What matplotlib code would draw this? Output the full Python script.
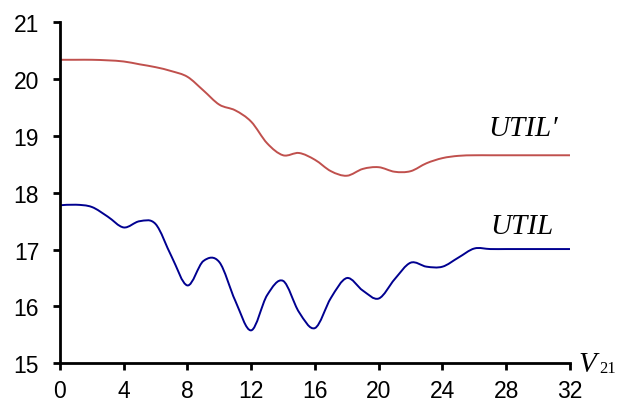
import matplotlib.pyplot as plt
from matplotlib.path import Path
from matplotlib.patches import PathPatch

# V21 values and the two utility series
v21 = list(range(0, 33))
util = [17.78, 17.79, 17.75, 17.58, 17.39, 17.50, 17.45, 16.88, 16.37, 16.80,
        16.78, 16.10, 15.58, 16.20, 16.45, 15.90, 15.62, 16.15, 16.50, 16.28,
        16.14, 16.48, 16.77, 16.70, 16.70, 16.86, 17.02, 17.01, 17.01, 17.01,
        17.01, 17.01, 17.01]
util_p = [20.34, 20.34, 20.34, 20.33, 20.31, 20.26, 20.21, 20.14, 20.04, 19.80,
          19.55, 19.45, 19.25, 18.87, 18.66, 18.70, 18.58, 18.38, 18.30, 18.42,
          18.45, 18.37, 18.38, 18.52, 18.61, 18.65, 18.66, 18.66, 18.66, 18.66,
          18.66, 18.66, 18.66]

xticks = [0, 4, 8, 12, 16, 20, 24, 28, 32]
yticks = [15, 16, 17, 18, 19, 20, 21]


def smooth_path(xs, ys):
    # Catmull-Rom style bezier through the points (like a smoothed spreadsheet line)
    pts = list(zip(xs, ys))
    verts = [pts[0]]
    codes = [Path.MOVETO]
    n = len(pts)
    for i in range(n - 1):
        p0 = pts[i - 1] if i > 0 else pts[i]
        p1 = pts[i]
        p2 = pts[i + 1]
        p3 = pts[i + 2] if i + 2 < n else pts[i + 1]
        c1 = (p1[0] + (p2[0] - p0[0]) / 6, p1[1] + (p2[1] - p0[1]) / 6)
        c2 = (p2[0] - (p3[0] - p1[0]) / 6, p2[1] - (p3[1] - p1[1]) / 6)
        verts += [c1, c2, p2]
        codes += [Path.CURVE4] * 3
    return Path(verts, codes)


fig = plt.figure(figsize=(6.17, 4.06), dpi=100)
ax = fig.add_axes([0.0972, 0.1027, 0.8266, 0.84])

ax.add_patch(PathPatch(smooth_path(v21, util_p), fill=False,
                       edgecolor='#C0504D', lw=1.4))
ax.add_patch(PathPatch(smooth_path(v21, util), fill=False,
                       edgecolor='#000090', lw=1.4))

ax.set_xlim(0, 32)
ax.set_ylim(15, 21)
ax.set_xticks(xticks)
ax.set_yticks(yticks)
ax.spines['top'].set_visible(False)
ax.spines['right'].set_visible(False)
ax.spines['left'].set_linewidth(2.0)
ax.spines['bottom'].set_linewidth(2.0)
ax.tick_params(direction='out', length=5, width=2.0, labelsize=16.5)
ax.tick_params(axis='y', pad=10)
ax.tick_params(axis='x', pad=6)
for lab in ax.get_xticklabels() + ax.get_yticklabels():
    lab.set_fontfamily('Liberation Sans')

serif = dict(family='Liberation Serif', style='italic', fontsize=21)
ax.text(26.9, 19.14, "UTIL\u2032", va='center', ha='left', **serif)
ax.text(27.0, 17.42, "UTIL", va='center', ha='left', **serif)

ax.text(32.55, 14.86, "V", va='baseline', ha='left', clip_on=False, **serif)
ax.text(33.85, 14.84, "21", va='baseline', ha='left', clip_on=False,
        family='Liberation Serif', fontsize=12)

fig.savefig('out.png', dpi=100)
